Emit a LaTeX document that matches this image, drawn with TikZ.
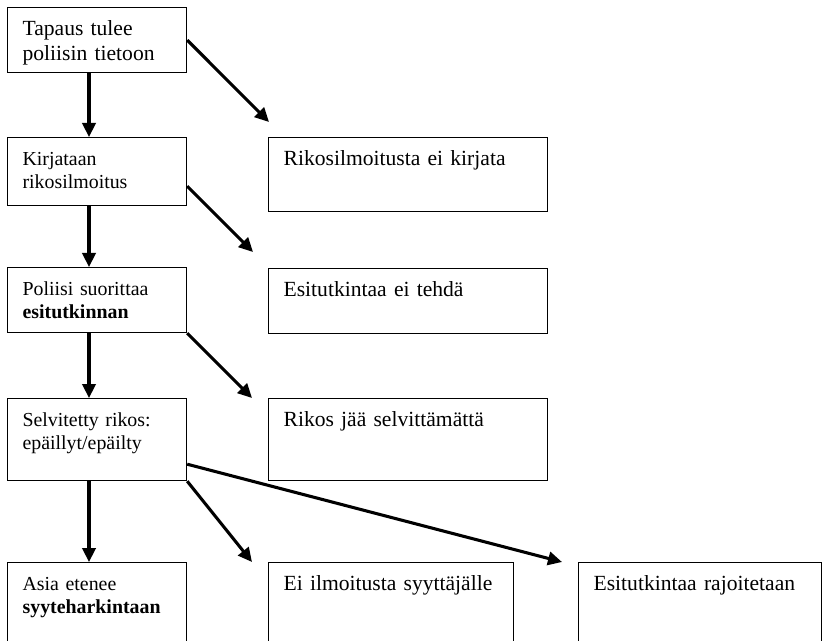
\documentclass[tikz,border=0pt]{standalone}
\usepackage{fontspec}
\setmainfont{Liberation Serif}
\usetikzlibrary{arrows.meta}

\begin{document}
\begin{tikzpicture}
            [x=0.75pt, y=-0.75pt,
            box/.style 2 args={draw=black, line width=0.9pt, anchor=north west, align=left,
                inner xsep=11.25pt, inner ysep=0pt, text width=#1, text height=21pt, text depth=#2},
            big/.style={font=\fontsize{16.2}{18.6}\selectfont},
            small/.style={font=\fontsize{14.9}{17.1}\selectfont},
            arr/.style={line width=2.3pt, -{Triangle[length=10.5pt, width=10pt]}}]
            \path [use as bounding box, clip] (0,0) rectangle (823,641);
            % left column
            \node [box={111.75pt}{27.75pt}, big] (tapaus) at (7,7) {Tapaus tulee\\poliisin tietoon};
            \node [box={111.75pt}{30pt}, small] (kirjaus) at (7,137) {Kirjataan\\rikosilmoitus};
            \node [box={111.75pt}{27.75pt}, small] (esitutkinta) at (7,267) {Poliisi suorittaa\\\textbf{esitutkinnan}};
            \node [box={111.75pt}{40.5pt}, small] (selvitetty) at (7,398) {Selvitetty rikos:\\epäillyt/epäilty};
            \node [box={111.75pt}{46pt}, small] (syyte) at (7,562) {Asia etenee\\\textbf{syyteharkintaan}};
            % right column
            \node [box={186.75pt}{34.5pt}, big] (eikirjata) at (268,137) {Rikosilmoitusta ei kirjata};
            \node [box={186.75pt}{27.75pt}, big] (eitehda) at (268,268) {Esitutkintaa ei tehdä};
            \node [box={186.75pt}{40.5pt}, big] (selvittamatta) at (268,398) {Rikos jää selvittämättä};
            \node [box={161.25pt}{46pt}, big] (eiilmoitusta) at (268,562) {Ei ilmoitusta syyttäjälle};
            \node [box={159.75pt}{46pt}, big] (rajoitetaan) at (578,562) {\mbox{Esitutkintaa rajoitetaan}};
            % arrow ends
            \coordinate (spine) at (89,0);
            \coordinate (to eikirjata) at (269,122);
            \coordinate (to eitehda) at (253,252);
            \coordinate (to selvittamatta) at (252,398);
            \coordinate (to eiilmoitusta) at (252,562);
            \coordinate (to rajoitetaan) at (562,562);
            \draw [arr] (tapaus.south -| spine) -- (kirjaus.north -| spine);
            \draw [arr] (kirjaus.south -| spine) -- (esitutkinta.north -| spine);
            \draw [arr] (esitutkinta.south -| spine) -- (selvitetty.north -| spine);
            \draw [arr] (selvitetty.south -| spine) -- (syyte.north -| spine);
            \draw [arr] (tapaus.east) -- (to eikirjata);
            \draw [arr] ([yshift=15pt]kirjaus.south east) -- (to eitehda);
            \draw [arr] (esitutkinta.south east) -- (to selvittamatta);
            \draw [arr] (selvitetty.south east) -- (to eiilmoitusta);
            \draw [arr] ([yshift=12.75pt]selvitetty.south east) -- (to rajoitetaan);
\end{tikzpicture}
\end{document}
